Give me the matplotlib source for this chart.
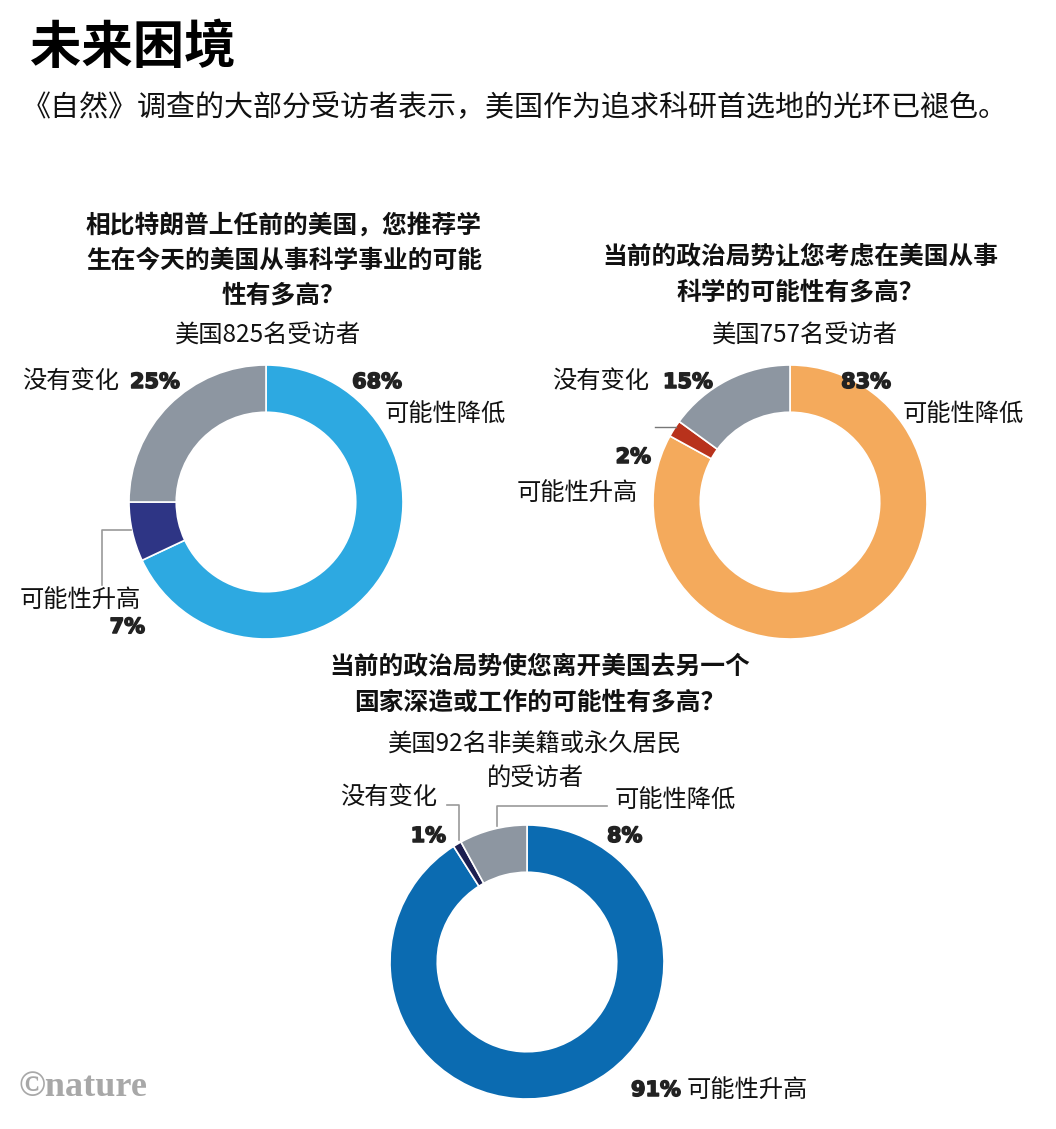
import matplotlib
matplotlib.use("Agg")
import matplotlib.pyplot as plt
import matplotlib.patheffects as pe

plt.rcParams['font.family'] = ['Noto Sans CJK SC', 'DejaVu Sans']

# ---- data ----
title = "未来困境"
subtitle = "《自然》调查的大部分受访者表示，美国作为追求科研首选地的光环已褪色。"

q1_lines = ["相比特朗普上任前的美国，您推荐学", "生在今天的美国从事科学事业的可能", "性有多高？"]
q1_n = "美国825名受访者"
q1_labels = ["可能性降低", "可能性升高", "没有变化"]
q1_values = [68, 7, 25]
q1_colors = ["#2DA9E1", "#2E3585", "#8D96A1"]

q2_lines = ["当前的政治局势让您考虑在美国从事", "科学的可能性有多高？"]
q2_n = "美国757名受访者"
q2_labels = ["可能性降低", "可能性升高", "没有变化"]
q2_values = [83, 2, 15]
q2_colors = ["#F4AA5C", "#B8321C", "#8D96A1"]

q3_lines = ["当前的政治局势使您离开美国去另一个", "国家深造或工作的可能性有多高？"]
q3_n = ["美国92名非美籍或永久居民", "的受访者"]
q3_labels = ["可能性升高", "没有变化", "可能性降低"]
q3_values = [91, 1, 8]
q3_colors = ["#0B6BB1", "#1C1F50", "#8D96A1"]

W, H = 1056, 1129
fig = plt.figure(figsize=(W / 100, H / 100), dpi=100)
ax = fig.add_axes([0, 0, 1, 1])


def Y(y):
    return H - y


R = 137
WIDTH = 0.345


def donut(values, colors, cx, cy):
    ax.pie(values, colors=colors, startangle=90, counterclock=False,
           center=(cx, Y(cy)), radius=R, frame=True,
           wedgeprops=dict(width=R * WIDTH, edgecolor='white', linewidth=1.2))


donut(q1_values, q1_colors, 266, 502)
donut(q2_values, q2_colors, 790, 502)
donut(q3_values, q3_colors, 527, 962)

ax.set_xlim(0, W)
ax.set_ylim(0, H)
ax.set_aspect('auto')
ax.set_axis_off()

TXT = "#111111"
PCT = dict(family='DejaVu Sans', fontweight='bold', fontsize=15, color="#222222", va='center',
           path_effects=[pe.withStroke(linewidth=1.1, foreground="#222222")])
LAB = dict(fontsize=17.5, color=TXT, va='center')
Q = dict(fontsize=17.8, fontweight='bold', color=TXT, va='center', ha='center')

# title and subtitle
ax.text(30, Y(48), title, fontsize=37, fontweight='heavy', color='black', va='center', ha='left')
ax.text(22, Y(108), subtitle, fontsize=20.9, color=TXT, va='center', ha='left')

# chart 1
for i, line in enumerate(q1_lines):
    ax.text(284, Y(225 + 35.5 * i), line, **Q)
ax.text(268, Y(335), q1_n, fontsize=17.5, color=TXT, va='center', ha='center')
ax.text(22, Y(381), q1_labels[2], ha='left', **LAB)
ax.text(130, Y(382), f"{q1_values[2]}%", ha='left', **PCT)
ax.text(402, Y(382), f"{q1_values[0]}%", ha='right', **PCT)
ax.text(385, Y(415), q1_labels[0], ha='left', **LAB)
ax.text(20, Y(600), q1_labels[1], ha='left', **LAB)
ax.text(145, Y(627), f"{q1_values[1]}%", ha='right', **PCT)
ax.plot([131, 102, 102], [Y(530), Y(530), Y(585)], color='#9A9A9A', lw=1.2)

# chart 2
for i, line in enumerate(q2_lines):
    ax.text(800, Y(257 + 35.5 * i), line, **Q)
ax.text(805, Y(335), q2_n, fontsize=17.5, color=TXT, va='center', ha='center')
ax.text(552, Y(381), q2_labels[2], ha='left', **LAB)
ax.text(663, Y(382), f"{q2_values[2]}%", ha='left', **PCT)
ax.text(891, Y(382), f"{q2_values[0]}%", ha='right', **PCT)
ax.text(903, Y(415), q2_labels[0], ha='left', **LAB)
ax.text(651, Y(457), f"{q2_values[1]}%", ha='right', **PCT)
ax.text(517, Y(493), q2_labels[1], ha='left', **LAB)
ax.plot([655, 676], [Y(427), Y(427)], color='#777777', lw=1.0)

# chart 3
for i, line in enumerate(q3_lines):
    ax.text(540, Y(667 + 35.5 * i), line, **Q)
for i, line in enumerate(q3_n):
    ax.text(535, Y(745 + 33 * i), line, fontsize=17.5, color=TXT, va='center', ha='center')
ax.text(340, Y(797), q3_labels[1], ha='left', **LAB)
ax.text(446, Y(836), f"{q3_values[1]}%", ha='right', **PCT)
ax.text(607, Y(836), f"{q3_values[2]}%", ha='left', **PCT)
ax.text(615, Y(801), q3_labels[2], ha='left', **LAB)
ax.plot([447, 459, 459], [Y(805), Y(805), Y(840)], color='#9A9A9A', lw=1.2)
ax.plot([607, 497, 497], [Y(806), Y(806), Y(826)], color='#9A9A9A', lw=1.2)
ax.text(681, Y(1090), f"{q3_values[0]}%", ha='right', **PCT)
ax.text(687, Y(1090), q3_labels[0], ha='left', **LAB)

# logo
ax.text(18, Y(1087), "©nature", family='Liberation Serif', fontweight='bold', fontsize=26,
        color='#A8A8A8', va='center', ha='left')

fig.savefig("out.png", dpi=100, facecolor='white')
